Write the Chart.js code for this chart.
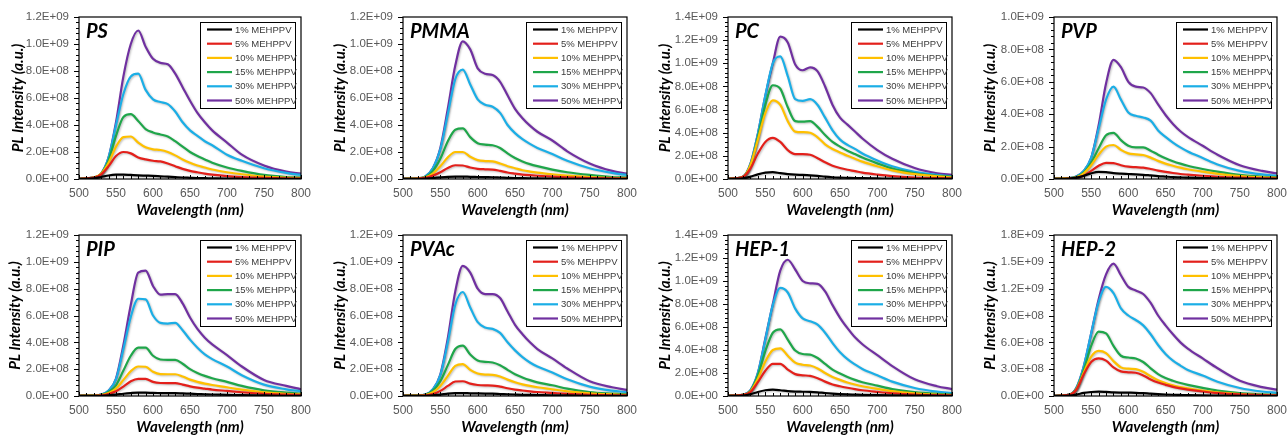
<!DOCTYPE html>
<html>
<head>
<meta charset="utf-8">
<script src="https://cdn.jsdelivr.net/npm/chart.js@4.4.0/dist/chart.umd.min.js"></script>
<style>
  body { margin: 0; background: #fff; width: 1287px; height: 436px; position: relative; overflow: hidden; }
  canvas { position: absolute; }
</style>
</head>
<body>
<script>
// wavelength grid shared by all spectra (nm)
const wavelength = [500, 520, 530, 540, 550, 560, 570, 580, 590, 600, 610, 620, 630, 640, 650, 660, 670, 680, 700, 720, 750, 780, 800];
const seriesLabels = ['1% MEHPPV', '5% MEHPPV', '10% MEHPPV', '15% MEHPPV', '30% MEHPPV', '50% MEHPPV'];

// PL intensity, in units of 1E+08 (a.u.), one row per series
const PS = [
  [0.01, 0.05, 0.15, 0.26, 0.32, 0.33, 0.3, 0.27, 0.25, 0.23, 0.2, 0.17, 0.14, 0.11, 0.09, 0.07, 0.06, 0.05, 0.03, 0.02, 0.01, 0.01, 0.005],
  [0.02, 0.1, 0.35, 0.95, 1.7, 2.0, 1.9, 1.6, 1.45, 1.35, 1.3, 1.15, 0.95, 0.75, 0.6, 0.5, 0.4, 0.33, 0.22, 0.15, 0.08, 0.04, 0.03],
  [0.02, 0.1, 0.4, 1.2, 2.4, 3.1, 3.15, 2.7, 2.35, 2.2, 2.15, 2.0, 1.75, 1.45, 1.2, 1.0, 0.85, 0.7, 0.5, 0.35, 0.18, 0.1, 0.07],
  [0.02, 0.1, 0.4, 1.4, 3.2, 4.6, 4.8, 4.3, 3.7, 3.45, 3.3, 3.15, 2.8, 2.4, 2.0, 1.7, 1.45, 1.2, 0.85, 0.6, 0.3, 0.15, 0.1],
  [0.02, 0.1, 0.4, 1.6, 4.0, 6.3, 7.6, 7.8, 6.6, 5.9, 5.7, 5.55, 5.0, 4.2, 3.6, 3.2, 2.8, 2.5, 1.8, 1.35, 0.8, 0.45, 0.3],
  [0.02, 0.1, 0.4, 1.6, 4.2, 7.6, 10.0, 11.0, 9.8, 8.9, 8.6, 8.5, 7.8, 6.8, 5.8, 4.9, 4.2, 3.6, 2.7, 1.8, 1.0, 0.55, 0.4]
];
const PMMA = [
  [0.005, 0.01, 0.03, 0.07, 0.12, 0.16, 0.18, 0.18, 0.16, 0.15, 0.14, 0.13, 0.11, 0.09, 0.07, 0.06, 0.05, 0.04, 0.03, 0.02, 0.01, 0.01, 0.005],
  [0.01, 0.03, 0.08, 0.25, 0.5, 0.82, 1.02, 1.0, 0.85, 0.75, 0.72, 0.7, 0.6, 0.48, 0.4, 0.33, 0.28, 0.24, 0.17, 0.12, 0.07, 0.04, 0.03],
  [0.02, 0.05, 0.12, 0.4, 0.95, 1.6, 2.0, 2.0, 1.65, 1.4, 1.33, 1.3, 1.15, 0.95, 0.8, 0.65, 0.55, 0.47, 0.35, 0.25, 0.14, 0.08, 0.05],
  [0.02, 0.05, 0.15, 0.6, 1.5, 2.8, 3.65, 3.75, 3.1, 2.65, 2.55, 2.5, 2.3, 1.9, 1.55, 1.3, 1.1, 0.95, 0.7, 0.5, 0.3, 0.15, 0.1],
  [0.02, 0.05, 0.2, 0.8, 2.2, 4.8, 7.4, 8.1, 7.0, 5.9, 5.5, 5.35, 4.9, 4.0, 3.4, 2.95, 2.6, 2.3, 1.85, 1.35, 0.8, 0.45, 0.3],
  [0.02, 0.05, 0.2, 0.8, 2.3, 5.2, 8.4, 10.2, 9.6, 8.2, 7.8, 7.7, 7.2, 6.2, 5.2, 4.5, 3.95, 3.5, 2.85, 2.05, 1.15, 0.6, 0.4]
];
const PC = [
  [0.01, 0.05, 0.2, 0.4, 0.55, 0.6, 0.5, 0.42, 0.37, 0.35, 0.32, 0.27, 0.2, 0.15, 0.12, 0.1, 0.08, 0.07, 0.05, 0.03, 0.02, 0.01, 0.01],
  [0.02, 0.2, 0.9, 2.2, 3.2, 3.55, 3.2, 2.5, 2.15, 2.15, 2.1, 1.8, 1.45, 1.15, 0.95, 0.8, 0.68, 0.55, 0.38, 0.25, 0.13, 0.07, 0.05],
  [0.02, 0.2, 1.2, 3.4, 5.7, 6.8, 6.4, 5.0, 4.1, 4.05, 4.0, 3.6, 3.0, 2.6, 2.3, 2.0, 1.75, 1.5, 1.1, 0.75, 0.42, 0.23, 0.15],
  [0.02, 0.2, 1.2, 3.6, 6.4, 8.1, 7.8, 6.2, 5.0, 4.95, 5.0, 4.5, 3.8, 3.2, 2.8, 2.45, 2.15, 1.85, 1.35, 0.9, 0.5, 0.28, 0.2],
  [0.02, 0.2, 1.3, 3.9, 7.2, 10.0, 10.6, 8.9, 6.9, 6.75, 6.9, 6.4, 5.3, 4.2, 3.4, 2.95, 2.6, 2.2, 1.6, 1.1, 0.62, 0.35, 0.25],
  [0.02, 0.2, 1.3, 3.9, 7.2, 10.0, 12.3, 11.8, 9.9, 9.4, 9.65, 9.3, 8.0, 6.4, 5.3, 4.7, 4.1, 3.5, 2.5, 1.75, 0.95, 0.5, 0.35]
];
const PVP = [
  [0.01, 0.03, 0.08, 0.2, 0.35, 0.44, 0.42, 0.36, 0.33, 0.31, 0.29, 0.26, 0.22, 0.18, 0.15, 0.12, 0.1, 0.08, 0.06, 0.04, 0.02, 0.01, 0.01],
  [0.01, 0.03, 0.07, 0.2, 0.5, 0.82, 1.0, 0.98, 0.85, 0.76, 0.73, 0.7, 0.62, 0.52, 0.44, 0.37, 0.31, 0.27, 0.2, 0.14, 0.08, 0.04, 0.03],
  [0.02, 0.05, 0.1, 0.35, 0.85, 1.5, 2.0, 2.1, 1.8, 1.58, 1.52, 1.48, 1.32, 1.12, 0.95, 0.82, 0.7, 0.6, 0.45, 0.32, 0.18, 0.1, 0.07],
  [0.02, 0.05, 0.12, 0.4, 1.0, 1.9, 2.7, 2.85, 2.4, 2.05, 1.95, 1.95, 1.75, 1.5, 1.28, 1.1, 0.95, 0.82, 0.62, 0.45, 0.25, 0.14, 0.1],
  [0.02, 0.05, 0.15, 0.5, 1.3, 3.1, 4.9, 5.7, 4.9, 4.1, 3.9, 3.8, 3.6, 3.0, 2.6, 2.25, 1.95, 1.7, 1.3, 0.9, 0.5, 0.28, 0.2],
  [0.02, 0.05, 0.15, 0.5, 1.3, 3.3, 5.9, 7.35, 6.9, 6.0, 5.7, 5.65, 5.3, 4.6, 3.95, 3.4, 2.95, 2.6, 2.05, 1.5, 0.85, 0.5, 0.35]
];
const PIP = [
  [0.005, 0.01, 0.02, 0.05, 0.1, 0.17, 0.22, 0.25, 0.25, 0.23, 0.22, 0.21, 0.21, 0.19, 0.17, 0.15, 0.13, 0.11, 0.09, 0.06, 0.04, 0.02, 0.02],
  [0.01, 0.02, 0.05, 0.15, 0.35, 0.7, 1.1, 1.28, 1.27, 1.05, 0.97, 0.96, 0.96, 0.85, 0.72, 0.62, 0.55, 0.48, 0.38, 0.28, 0.16, 0.1, 0.07],
  [0.02, 0.03, 0.07, 0.22, 0.55, 1.2, 1.85, 2.2, 2.18, 1.8, 1.63, 1.62, 1.62, 1.45, 1.22, 1.05, 0.92, 0.82, 0.65, 0.47, 0.27, 0.16, 0.12],
  [0.02, 0.04, 0.08, 0.3, 0.8, 1.9, 3.0, 3.6, 3.6, 3.0, 2.72, 2.7, 2.7, 2.4, 2.0, 1.72, 1.5, 1.32, 1.05, 0.75, 0.42, 0.25, 0.18],
  [0.02, 0.04, 0.1, 0.4, 1.25, 3.5, 5.9, 7.25, 7.2, 6.0, 5.45, 5.4, 5.45, 4.9, 4.2, 3.6, 3.1, 2.75, 2.2, 1.55, 0.85, 0.5, 0.35],
  [0.02, 0.04, 0.1, 0.4, 1.3, 3.8, 6.8, 9.2, 9.35, 8.2, 7.55, 7.6, 7.6, 6.9, 5.85, 5.0, 4.35, 3.85, 3.05, 2.2, 1.2, 0.75, 0.5]
];
const PVAc = [
  [0.005, 0.01, 0.02, 0.05, 0.1, 0.17, 0.21, 0.22, 0.2, 0.19, 0.18, 0.17, 0.15, 0.13, 0.11, 0.09, 0.08, 0.07, 0.05, 0.04, 0.02, 0.01, 0.01],
  [0.01, 0.02, 0.04, 0.14, 0.38, 0.75, 1.08, 1.1, 0.92, 0.82, 0.79, 0.78, 0.7, 0.58, 0.48, 0.41, 0.35, 0.3, 0.23, 0.16, 0.09, 0.05, 0.04],
  [0.02, 0.03, 0.07, 0.28, 0.75, 1.5, 2.25, 2.38, 1.95, 1.68, 1.6, 1.58, 1.45, 1.22, 1.02, 0.87, 0.75, 0.65, 0.5, 0.35, 0.2, 0.12, 0.08],
  [0.02, 0.04, 0.08, 0.4, 1.1, 2.3, 3.5, 3.75, 3.1, 2.65, 2.55, 2.5, 2.3, 1.95, 1.62, 1.38, 1.18, 1.02, 0.8, 0.55, 0.3, 0.18, 0.12],
  [0.02, 0.04, 0.1, 0.5, 1.55, 4.0, 6.8, 7.75, 6.6, 5.5, 5.1, 5.0, 4.7, 4.0, 3.4, 2.9, 2.5, 2.2, 1.75, 1.25, 0.7, 0.4, 0.28],
  [0.02, 0.04, 0.1, 0.5, 1.6, 4.3, 7.8, 9.7, 9.2, 8.0, 7.6, 7.6, 7.3, 6.3, 5.3, 4.6, 4.0, 3.5, 2.8, 2.05, 1.1, 0.65, 0.45]
];
const HEP1 = [
  [0.01, 0.04, 0.15, 0.35, 0.5, 0.55, 0.5, 0.42, 0.38, 0.37, 0.36, 0.32, 0.26, 0.21, 0.17, 0.14, 0.12, 0.1, 0.07, 0.05, 0.03, 0.02, 0.01],
  [0.02, 0.1, 0.35, 1.2, 2.2, 2.8, 2.8, 2.3, 1.9, 1.8, 1.75, 1.55, 1.25, 1.0, 0.85, 0.72, 0.6, 0.5, 0.36, 0.24, 0.13, 0.07, 0.05],
  [0.02, 0.1, 0.4, 1.5, 3.0, 4.0, 4.15, 3.5, 2.9, 2.72, 2.65, 2.4, 2.0, 1.65, 1.4, 1.18, 1.0, 0.85, 0.62, 0.42, 0.23, 0.12, 0.08],
  [0.02, 0.1, 0.45, 1.8, 3.9, 5.5, 5.8, 4.9, 3.95, 3.65, 3.6, 3.3, 2.8, 2.3, 1.95, 1.65, 1.4, 1.2, 0.9, 0.6, 0.33, 0.18, 0.12],
  [0.02, 0.1, 0.5, 2.0, 4.9, 7.9, 9.4, 9.0, 7.6, 6.75, 6.5, 6.2, 5.5, 4.6, 3.8, 3.2, 2.75, 2.35, 1.8, 1.25, 0.7, 0.38, 0.25],
  [0.02, 0.1, 0.5, 2.0, 5.0, 8.0, 10.9, 11.85, 11.0, 10.0, 9.8, 9.75, 9.1, 7.9, 6.8, 5.9, 5.1, 4.5, 3.55, 2.6, 1.45, 0.85, 0.6]
];
const HEP2 = [
  [0.01, 0.04, 0.15, 0.35, 0.45, 0.5, 0.46, 0.4, 0.38, 0.37, 0.36, 0.32, 0.26, 0.21, 0.17, 0.14, 0.12, 0.1, 0.07, 0.05, 0.03, 0.02, 0.01],
  [0.02, 0.12, 0.7, 2.4, 3.8, 4.2, 3.95, 3.2, 2.75, 2.65, 2.6, 2.3, 1.85, 1.5, 1.25, 1.02, 0.85, 0.72, 0.5, 0.33, 0.18, 0.1, 0.07],
  [0.02, 0.12, 0.75, 2.6, 4.4, 5.05, 4.8, 3.9, 3.2, 3.05, 3.0, 2.7, 2.2, 1.75, 1.45, 1.2, 1.0, 0.85, 0.6, 0.4, 0.22, 0.12, 0.08],
  [0.02, 0.12, 0.8, 2.9, 5.6, 7.2, 7.0, 5.6, 4.5, 4.3, 4.2, 3.8, 3.1, 2.45, 2.0, 1.7, 1.45, 1.25, 0.9, 0.6, 0.32, 0.18, 0.12],
  [0.02, 0.15, 0.9, 3.3, 7.0, 10.5, 12.2, 11.5, 9.8, 9.0, 8.5, 7.9, 6.9, 5.7, 4.7, 3.95, 3.4, 2.9, 2.3, 1.6, 0.9, 0.5, 0.35],
  [0.02, 0.15, 0.9, 3.3, 7.0, 10.8, 13.6, 14.8, 13.5, 12.2, 11.8, 11.4, 10.4, 9.0, 7.9, 6.9, 6.0, 5.3, 4.2, 3.1, 1.7, 1.0, 0.7]
];

const panelNames = ['PS', 'PMMA', 'PC', 'PVP', 'PIP', 'PVAc', 'HEP-1', 'HEP-2'];
const panelData = [PS, PMMA, PC, PVP, PIP, PVAc, HEP1, HEP2];
const yMax = [12, 12, 14, 10, 12, 12, 14, 18];   // x 1E+08
const yStep = [2, 2, 2, 2, 2, 2, 2, 3];          // x 1E+08

// styling / layout
const lineColors = ['#000000', '#E3201B', '#FFC000', '#1FA64A', '#1BAEE6', '#7030A0'];
const colLeft = [0, 320, 645, 965];
const colWidth = [320, 325, 320, 322];
const plotLeft = [79, 83, 83, 89];
const plotRightPad = [19, 18, 13, 10];
const yTitleCenter = [[18, 20, 20, 25], [15, 20, 20, 25]];

// 1.2E+09 style tick labels
function sciLabel(v) {
    const [m, e] = Number(v).toExponential(1).split('e');
    return m + 'E' + e[0] + e.slice(1).padStart(2, '0');
}

const panelDeco = {
    id: 'panelDeco',
    beforeDatasetsDraw(chart) {
        const ctx = chart.ctx;
        ctx.save();
        ctx.shadowColor = 'rgba(0,0,0,0.25)';
        ctx.shadowBlur = 2;
        ctx.shadowOffsetX = 1;
        ctx.shadowOffsetY = 1;
    },
    afterDatasetsDraw(chart) {
        chart.ctx.restore();
    },
    afterDraw(chart, args, opts) {
        const ctx = chart.ctx;
        const ca = chart.chartArea;
        const xs = chart.scales.x;
        const ys = chart.scales.y;
        ctx.save();

        // frame
        ctx.strokeStyle = '#000';
        ctx.lineWidth = 1.2;
        ctx.strokeRect(ca.left, ca.top, ca.right - ca.left, ca.bottom - ca.top);

        // y ticks (outside, 5 per major step)
        ctx.beginPath();
        const minor = opts.step / 5;
        const n = Math.round(ys.max / minor);
        for (let i = 0; i <= n; i++) {
            const y = Math.round(ys.getPixelForValue(i * minor)) + 0.5;
            const len = i % 5 === 0 ? 5 : 3;
            ctx.moveTo(ca.left - len, y);
            ctx.lineTo(ca.left, y);
        }
        // x ticks (inside, every 10 nm)
        for (let w = 500; w <= 800; w += 10) {
            const x = Math.round(xs.getPixelForValue(w)) + 0.5;
            const len = w % 50 === 0 ? 4 : 3;
            ctx.moveTo(x, ca.bottom);
            ctx.lineTo(x, ca.bottom - len);
        }
        ctx.lineWidth = 1;
        ctx.stroke();

        // polymer name
        ctx.fillStyle = '#000';
        ctx.font = 'italic bold 20px Lato';
        ctx.textBaseline = 'alphabetic';
        ctx.textAlign = 'left';
        ctx.fillText(opts.name, ca.left + 7, ca.top + 21);

        // legend box
        const bw = 95, bh = 86;
        const bx = ca.right - 6 - bw;
        const by = ca.top + 5;
        ctx.fillStyle = '#fff';
        ctx.fillRect(bx, by, bw, bh);
        ctx.strokeStyle = '#000';
        ctx.lineWidth = 1;
        ctx.strokeRect(bx + 0.5, by + 0.5, bw, bh);
        ctx.font = '9.5px "Liberation Sans", Arial';
        ctx.textBaseline = 'middle';
        chart.data.datasets.forEach((ds, i) => {
            const y = by + 7.5 + i * 14.2;
            ctx.beginPath();
            ctx.moveTo(bx + 7, y);
            ctx.lineTo(bx + 32, y);
            ctx.strokeStyle = ds.borderColor;
            ctx.lineWidth = 2.2;
            ctx.stroke();
            ctx.fillStyle = '#3a3a3a';
            ctx.fillText(ds.label, bx + 35, y + 0.5);
        });
        ctx.restore();
    }
};

panelNames.forEach((name, p) => {
    const row = Math.floor(p / 4);
    const col = p % 4;
    const canvas = document.createElement('canvas');
    canvas.width = colWidth[col];
    canvas.height = 218;
    canvas.style.left = colLeft[col] + 'px';
    canvas.style.top = (row * 218) + 'px';
    document.body.appendChild(canvas);

    const xAxisHeight = row === 0 ? 39 : 40;
    const yW = plotLeft[col];

    const datasets = panelData[p].map((vals, s) => ({
        label: seriesLabels[s],
        data: wavelength.map((w, i) => ({ x: w, y: vals[i] * 1e8 })),
        borderColor: lineColors[s],
        backgroundColor: lineColors[s],
        borderWidth: 2.2,
        pointRadius: 0,
        cubicInterpolationMode: 'monotone',
        fill: false
    }));

    new Chart(canvas.getContext('2d'), {
        type: 'line',
        data: { datasets: datasets },
        options: {
            responsive: false,
            animation: false,
            events: [],
            layout: { padding: { top: 17, right: plotRightPad[col], bottom: 0, left: 0 } },
            plugins: {
                legend: { display: false },
                tooltip: { enabled: false },
                panelDeco: { name: name, step: yStep[p] * 1e8 }
            },
            scales: {
                x: {
                    type: 'linear',
                    min: 500,
                    max: 800,
                    ticks: {
                        stepSize: 50,
                        padding: 7,
                        maxRotation: 0,
                        color: '#595959',
                        font: { family: '"Liberation Sans", Arial', size: 12 }
                    },
                    grid: { display: false, drawTicks: false },
                    border: { display: false },
                    title: {
                        display: true,
                        text: 'Wavelength (nm)',
                        color: '#000',
                        font: { family: 'Lato', size: 15, style: 'italic', weight: 'bold', lineHeight: 1 },
                        padding: { top: 0, bottom: row === 0 ? 0 : 1.5 }
                    },
                    afterFit(scale) {
                        scale.height = xAxisHeight;
                        scale.paddingLeft = 0;
                        scale.paddingRight = 0;
                    }
                },
                y: {
                    min: 0,
                    max: yMax[p] * 1e8,
                    ticks: {
                        stepSize: yStep[p] * 1e8,
                        padding: 10,
                        color: '#595959',
                        font: { family: '"Liberation Sans", Arial', size: 11.5 },
                        callback: value => sciLabel(value)
                    },
                    grid: { display: false, drawTicks: false },
                    border: { display: false },
                    title: {
                        display: true,
                        text: 'PL Intensity (a.u.)',
                        color: '#000',
                        font: { family: 'Lato', size: 15, style: 'italic', weight: 'bold', lineHeight: 1 },
                        padding: { top: yTitleCenter[row][col] - 7.5, bottom: 0 }
                    },
                    afterFit(scale) {
                        scale.width = yW;
                        scale.paddingTop = 0;
                        scale.paddingBottom = 0;
                    }
                }
            }
        },
        plugins: [panelDeco]
    });
});
</script>
</body>
</html>
